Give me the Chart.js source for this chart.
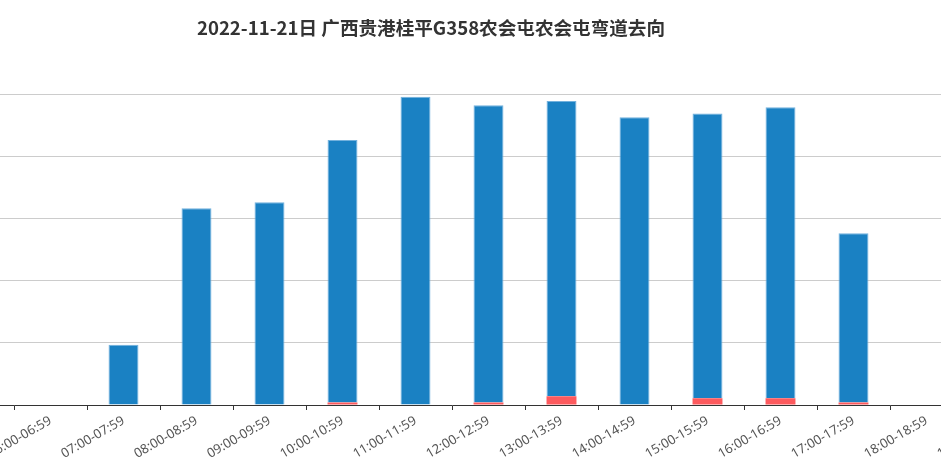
<!DOCTYPE html>
<html>
<head>
<meta charset="utf-8">
<script src="https://cdn.jsdelivr.net/npm/chart.js"></script>
<style>
  html, body { margin: 0; padding: 0; background: #fff; }
  #wrap { position: relative; width: 941px; height: 459px; overflow: hidden; }
  #chart { position: absolute; left: -474px; top: 0; }
</style>
</head>
<body>
<div id="wrap"><canvas id="chart" width="1810" height="459"></canvas></div>
<script>
// hourly buckets for the whole day (only 06:00-18:59 fall inside the window)
const hours = [
  '00:00-00:59', '01:00-01:59', '02:00-02:59', '03:00-03:59', '04:00-04:59', '05:00-05:59',
  '06:00-06:59', '07:00-07:59', '08:00-08:59', '09:00-09:59', '10:00-10:59', '11:00-11:59',
  '12:00-12:59', '13:00-13:59', '14:00-14:59', '15:00-15:59', '16:00-16:59', '17:00-17:59',
  '18:00-18:59', '19:00-19:59', '20:00-20:59', '21:00-21:59', '22:00-22:59', '23:00-23:59'
];

// red part (bottom of stack)
const redValues = [0, 0, 0, 0, 0, 0, 0, 0, 0, 0, 4, 0, 4, 14, 0, 11, 11, 4, 0, 0, 0, 0, 0, 0];
// blue part (top of stack)
const blueValues = [0, 0, 0, 0, 0, 0, 0, 97, 317, 327, 423, 497, 479, 476, 464, 459, 469, 273, 0, 0, 0, 0, 0, 0];

const yTicks = { min: 0, max: 500, step: 100 };

const titleText = '2022-11-21日 广西贵港桂平G358农会屯农会屯弯道去向';

document.addEventListener('DOMContentLoaded', function() {
    const ctx = document.getElementById('chart').getContext('2d');

    new Chart(ctx, {
        type: 'bar',
        data: {
            labels: hours,
            datasets: [{
                label: 'red',
                data: redValues,
                backgroundColor: '#fd5a5e',
                borderWidth: 0,
                barPercentage: 0.41,
                categoryPercentage: 1
            }, {
                label: 'blue',
                data: blueValues,
                backgroundColor: '#1a81c3',
                borderColor: '#72b1dd',
                borderWidth: { left: 1, right: 1, top: 1, bottom: 0 },
                borderSkipped: false,
                barPercentage: 0.41,
                categoryPercentage: 1
            }]
        },
        options: {
            responsive: false,
            animation: false,
            layout: { padding: { left: 8, right: 8, top: 0, bottom: 0 } },
            plugins: {
                legend: { display: false },
                tooltip: { enabled: false },
                title: {
                    display: true,
                    text: titleText,
                    color: '#333',
                    font: { family: '"Noto Sans CJK SC", sans-serif', size: 18.6, weight: 'bold' },
                    padding: { top: 17, bottom: 55.5 }
                }
            },
            scales: {
                x: {
                    stacked: true,
                    offset: true,
                    border: { display: true, color: '#333', width: 1 },
                    grid: {
                        offset: true,
                        drawOnChartArea: false,
                        drawTicks: true,
                        tickLength: 5,
                        color: '#333'
                    },
                    ticks: {
                        autoSkip: false,
                        minRotation: 30,
                        maxRotation: 30,
                        color: '#555',
                        padding: 3,
                        font: { family: '"Noto Sans", sans-serif', size: 13 }
                    },
                    afterFit: function(scale) { scale.height = 54; }
                },
                y: {
                    stacked: true,
                    min: yTicks.min,
                    max: yTicks.max,
                    border: { display: false },
                    grid: { color: '#cccccc', drawTicks: false },
                    ticks: { stepSize: yTicks.step, color: '#555' },
                    afterFit: function(scale) { scale.width = 42; }
                }
            }
        }
    });
});
</script>
</body>
</html>
